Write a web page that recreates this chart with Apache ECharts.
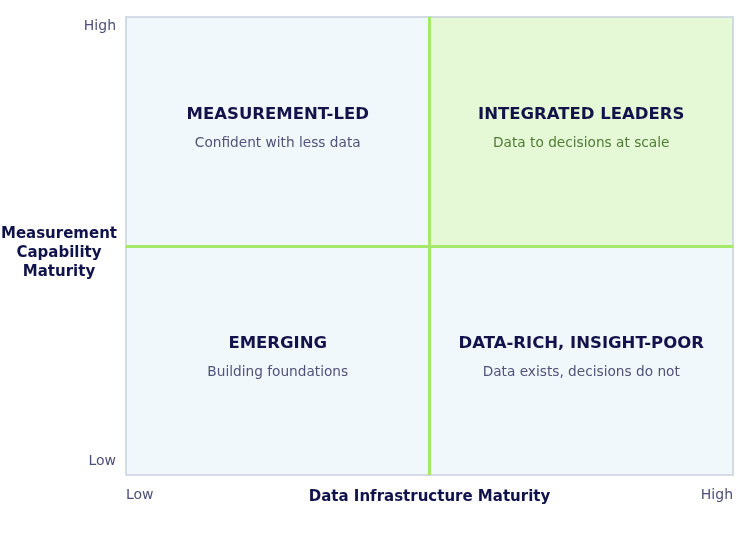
<!DOCTYPE html>
<html>
<head>
<meta charset="utf-8">
<script src="https://cdn.jsdelivr.net/npm/echarts@6/dist/echarts.min.js"></script>
<style>
  html, body { margin: 0; padding: 0; background: #fff; }
  #chart { width: 746px; height: 556px; }
</style>
</head>
<body>
<div id="chart"></div>
<script>
// quadrant layout (axis values 0-100, split at 50)
var quadrantNames = ['MEASUREMENT-LED', 'INTEGRATED LEADERS', 'EMERGING', 'DATA-RICH, INSIGHT-POOR'];
var quadrantNotes = ['Confident with less data', 'Data to decisions at scale', 'Building foundations', 'Data exists, decisions do not'];
var quadrantX0 = [0, 50, 0, 50];
var quadrantX1 = [50, 100, 50, 100];
var quadrantY0 = [50, 50, 0, 0];
var quadrantY1 = [100, 100, 50, 50];
var highlighted = [false, true, false, false];

var splitX = 50;
var splitY = 50;

var xTickValues = [0, 100];
var yTickValues = [3, 98];
var tickLabels = { 0: 'Low', 3: 'Low', 98: 'High', 100: 'High' };

var quadData = quadrantNames.map(function (n, i) {
  return [quadrantX0[i], quadrantX1[i], quadrantY0[i], quadrantY1[i], i];
});

var chart = echarts.init(document.getElementById('chart'));

chart.setOption({
  animation: false,
  textStyle: { fontFamily: 'DejaVu Sans' },
  grid: { left: 126, right: 13, top: 17, bottom: 81, containLabel: false, outerBoundsMode: 'none' },
  xAxis: {
    type: 'value', min: 0, max: 100,
    name: 'Data Infrastructure Maturity',
    nameLocation: 'middle', nameGap: 15, nameMoveOverlap: false,
    nameTextStyle: { color: '#10124a', fontWeight: 'bold', fontSize: 15, fontFamily: 'DejaVu Sans' },
    axisLine: { show: false }, axisTick: { show: false }, splitLine: { show: false },
    axisLabel: {
      customValues: xTickValues, margin: 13, color: '#4d5078', fontSize: 14,
      alignMinLabel: 'left', alignMaxLabel: 'right',
      formatter: function (v) { return tickLabels[v]; }
    }
  },
  yAxis: {
    type: 'value', min: 0, max: 100,
    // small empty first line nudges the block down a little
    name: '{gap| }\nMeasurement\nCapability\nMaturity',
    nameLocation: 'middle', nameGap: 67, nameRotate: 0, nameMoveOverlap: false,
    nameTextStyle: {
      color: '#10124a', fontWeight: 'bold', fontSize: 15, lineHeight: 19,
      align: 'center', verticalAlign: 'middle', fontFamily: 'DejaVu Sans',
      rich: { gap: { fontSize: 1, lineHeight: 15 } }
    },
    axisLine: { show: false }, axisTick: { show: false }, splitLine: { show: false },
    axisLabel: {
      customValues: yTickValues, margin: 10, color: '#4d5078', fontSize: 14,
      formatter: function (v) { return tickLabels[v]; }
    }
  },
  series: [
    {
      type: 'custom',
      z: 2,
      silent: true,
      data: quadData,
      renderItem: function (params, api) {
        var i = api.value(4);
        var p0 = api.coord([api.value(0), api.value(3)]);
        var p1 = api.coord([api.value(1), api.value(2)]);
        var cx = (p0[0] + p1[0]) / 2;
        var cy = (p0[1] + p1[1]) / 2;
        var hi = highlighted[i];
        return {
          type: 'group',
          children: [
            {
              type: 'rect',
              shape: { x: p0[0], y: p0[1], width: p1[0] - p0[0], height: p1[1] - p0[1] },
              style: { fill: hi ? '#e5f9d6' : '#f0f8fb', stroke: '#c8d0e0', lineWidth: 1.5 }
            },
            {
              type: 'text',
              style: {
                x: cx, y: cy - 17, text: quadrantNames[i],
                align: 'center', verticalAlign: 'middle',
                fill: '#12134a', fontFamily: 'DejaVu Sans', fontWeight: 'bold', fontSize: 16.5
              }
            },
            {
              type: 'text',
              style: {
                x: cx, y: cy + 12, text: quadrantNotes[i],
                align: 'center', verticalAlign: 'middle',
                fill: hi ? '#4f7a33' : '#4f5478', fontFamily: 'DejaVu Sans', fontSize: 13.7
              }
            }
          ]
        };
      }
    },
    {
      type: 'line',
      z: 5,
      data: [],
      markLine: {
        silent: true,
        symbol: 'none',
        label: { show: false },
        lineStyle: { color: '#a5e86a', width: 3, type: 'solid' },
        data: [{ xAxis: splitX }, { yAxis: splitY }]
      }
    }
  ]
});
</script>
</body>
</html>
